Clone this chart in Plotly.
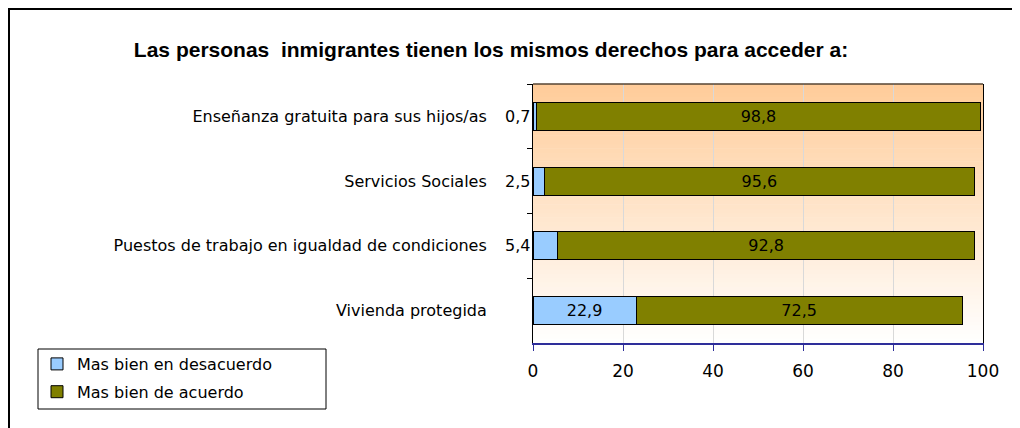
import plotly.graph_objects as go

categories = [
    "Enseñanza gratuita para sus hijos/as",
    "Servicios Sociales",
    "Puestos de trabajo en igualdad de condiciones",
    "Vivienda protegida",
]
desacuerdo = [0.7, 2.5, 5.4, 22.9]
acuerdo = [98.8, 95.6, 92.8, 72.5]
series_names = ["Mas bien en desacuerdo", "Mas bien de acuerdo"]
x_ticks = [0, 20, 40, 60, 80, 100]
title_text = "Las personas  inmigrantes tienen los mismos derechos para acceder a:"

# page is shown with an 8px body margin; work in figure pixels = page - OFF
OFF = 8
W, H = 1020 - OFF, 428 - OFF
L = 533 - OFF
R = W - (983 - OFF)
T = 84 - OFF
B = H - (343 - OFF)
PW, PH = W - L - R, H - T - B


def px_x(page_px):
    return (page_px - OFF - L) / PW


def px_y(page_py):
    return (H - B - (page_py - OFF)) / PH


FONT = "DejaVu Sans"

def fmt(v):
    return f"{v:.1f}".replace(".", ",")

fig = go.Figure()
fig.add_trace(go.Bar(
    y=categories, x=desacuerdo, orientation="h", name=series_names[0],
    marker=dict(color="#99CCFF", line=dict(color="black", width=1)),
    text=[fmt(v) if v >= 10 else "" for v in desacuerdo],
    textposition="inside", insidetextanchor="middle", textangle=0,
    textfont=dict(family=FONT, size=16, color="black"),
    legendgroup="a", hoverinfo="x+y",
))
fig.add_trace(go.Bar(
    y=categories, x=acuerdo, orientation="h", name=series_names[1],
    marker=dict(color="#808000", line=dict(color="black", width=1)),
    text=[fmt(v) for v in acuerdo],
    textposition="inside", insidetextanchor="middle", textangle=0,
    textfont=dict(family=FONT, size=16, color="black"),
    legendgroup="b", hoverinfo="x+y",
))

# labels for small values, placed left of the bar start
for c, v in zip(categories, desacuerdo):
    if v < 10:
        fig.add_annotation(x=0, y=c, xref="x", yref="y", text=fmt(v),
                           showarrow=False, xanchor="right", xshift=-1,
                           font=dict(family=FONT, size=16, color="black"))

shapes = []
# gradient background of plot area
N = 60
top = (255, 204, 153)
bot = (255, 255, 255)
for i in range(N):
    f = (i + 0.5) / N  # 0 at bottom -> 1 at top
    col = tuple(round(bot[k] + (top[k] - bot[k]) * f) for k in range(3))
    shapes.append(dict(type="rect", xref="x domain", yref="y domain",
                       x0=0, x1=1, y0=i / N, y1=(i + 1) / N + 0.002,
                       fillcolor="rgb(%d,%d,%d)" % col, line=dict(width=0),
                       layer="below"))
# top border of plot area
shapes.append(dict(type="line", xref="x domain", yref="y domain",
                   x0=0, x1=1, y0=1, y1=1, line=dict(color="black", width=1)))
# outer frame
shapes.append(dict(type="rect", xref="paper", yref="paper",
                   x0=px_x(9), x1=px_x(1060), y0=px_y(9), y1=px_y(470),
                   line=dict(color="black", width=2), fillcolor="rgba(0,0,0,0)"))
# legend box
shapes.append(dict(type="rect", xref="paper", yref="paper",
                   x0=px_x(38), x1=px_x(326), y0=px_y(349), y1=px_y(409),
                   line=dict(color="black", width=1), fillcolor="rgba(0,0,0,0)"))

fig.update_layout(
    width=W, height=H,
    margin=dict(l=L, r=R, t=T, b=B),
    barmode="stack", bargap=0.57,
    separators=",.",
    paper_bgcolor="white", plot_bgcolor="rgba(0,0,0,0)",
    shapes=shapes,
    showlegend=True,
    legend=dict(x=px_x(37), y=px_y(347), xanchor="left", yanchor="top",
                traceorder="grouped", tracegroupgap=4,
                font=dict(family=FONT, size=16, color="black"),
                bgcolor="rgba(0,0,0,0)", borderwidth=0,
                itemwidth=30),
    title=dict(text="<b>" + title_text + "</b>", x=(491 - OFF) / W, xref="container",
               xanchor="center", y=1 - (50 - OFF) / H, yref="container", yanchor="middle",
               font=dict(family="Liberation Sans", size=21, color="black")),
    font=dict(family=FONT, color="black"),
)
fig.update_xaxes(range=[0, 100], tickvals=x_ticks, showgrid=True, gridcolor="#D9D9D9",
                 gridwidth=1, showline=True, linecolor="#2E2E9A", linewidth=1.5,
                 ticks="outside", ticklen=6, tickcolor="#2E2E9A",
                 ticklabelstandoff=6,
                 tickfont=dict(family=FONT, size=17, color="black"), zeroline=False,
                 fixedrange=True)
fig.update_yaxes(categoryorder="array", categoryarray=categories, autorange="reversed",
                 showline=True, linecolor="black", linewidth=1, mirror=True,
                 ticks="outside", ticklen=5, tickcolor="black", tickson="boundaries",
                 ticklabelstandoff=42,
                 tickfont=dict(family=FONT, size=16, color="black"), showgrid=False,
                 fixedrange=True)

fig.write_html("out.html")
